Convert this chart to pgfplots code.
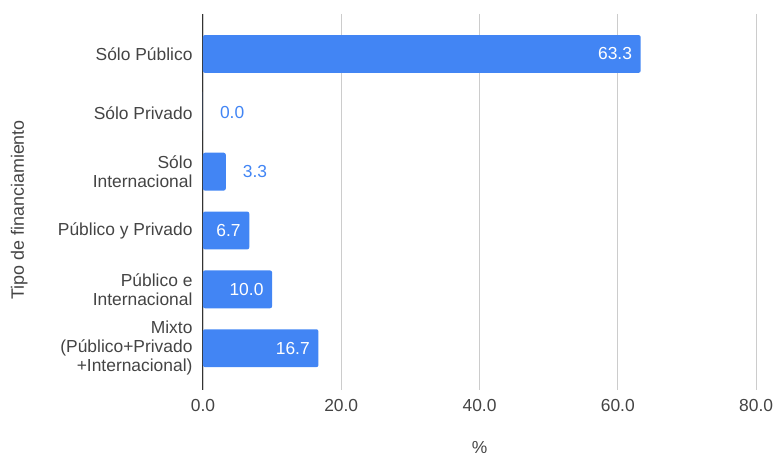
\documentclass[border=0pt]{standalone}
\usepackage{pgfplots}
\pgfplotsset{compat=1.18}
\usepackage{fontspec}
\setmainfont{Liberation Sans}
\definecolor{barblue}{HTML}{4285F4}
\definecolor{txtgray}{HTML}{444444}
\definecolor{gridgray}{HTML}{CCCCCC}
\definecolor{axisdark}{HTML}{333333}
\begin{document}
\begin{tikzpicture}
\path[use as bounding box] (-204pt,-68pt) rectangle (575pt,392pt);
\begin{axis}[
  at={(0pt,0pt)}, anchor=south west,
  scale only axis, width=556pt, height=378pt,
  xbar, bar width=38pt, bar shift=0pt,
  xmin=0, xmax=80,
  ymin=-0.68, ymax=5.71, y dir=reverse,
  xtick={0,20,40,60,80},
  ytick={0,1,2,3,4,5},
  yticklabels={S\'olo P\'ublico, S\'olo Privado, {S\'olo\\Internacional}, P\'ublico y Privado, {P\'ublico e\\Internacional}, {Mixto\\(P\'ublico+Privado\\+Internacional)}},
  yticklabel style={align=right, font=\fontsize{17.5}{19}\selectfont, text=txtgray, xshift=-7pt},
  xticklabel style={font=\fontsize{17.5}{19}\selectfont, text=txtgray, yshift=-6pt},
  /pgf/number format/assume math mode=true,
  xticklabel={\pgfmathprintnumber[fixed,fixed zerofill,precision=1]{\tick}},
  major tick length=0pt,
  tick style={draw=none},
  xmajorgrids, grid style={gridgray, line width=0.9pt},
  axis lines*=left,
  x axis line style={draw=none},
  y axis line style={draw=axisdark, line width=1pt},
  xlabel={\%}, ylabel={Tipo de financiamiento},
  every axis x label/.style={at={(axis description cs:0.5,-0.152)}, anchor=center, font=\fontsize{17.5}{19}\selectfont, text=txtgray},
  every axis y label/.style={at={(axis description cs:-0.332,0.479)}, rotate=90, anchor=center, font=\fontsize{18}{19}\selectfont, text=txtgray},
  clip=false,
]
\addplot[fill=barblue, draw=none, rounded corners=2pt,
  nodes near coords={\pgfmathprintnumber[fixed,fixed zerofill,precision=1]{\pgfplotspointmeta}},
  every node near coord/.append style={anchor=east, inner sep=0pt, text=white, xshift=-8.5pt, font=\fontsize{17.5}{19}\selectfont}]
  coordinates {(63.3,0) (6.7,3) (10.0,4) (16.7,5)};
\addplot[fill=barblue, draw=none, rounded corners=2pt,
  nodes near coords={\pgfmathprintnumber[fixed,fixed zerofill,precision=1]{\pgfplotspointmeta}},
  every node near coord/.append style={anchor=west, inner sep=0pt, text=barblue, xshift=17pt, font=\fontsize{17.5}{19}\selectfont}]
  coordinates {(0.0,1) (3.3,2)};
\end{axis}
\end{tikzpicture}
\end{document}
